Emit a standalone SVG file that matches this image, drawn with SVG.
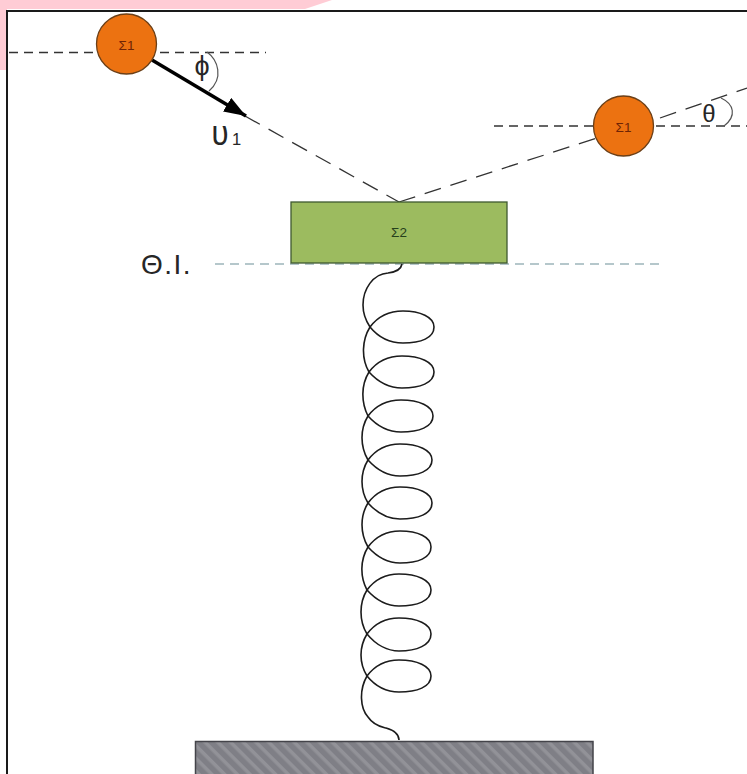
<svg xmlns="http://www.w3.org/2000/svg" width="747" height="774" viewBox="0 0 747 774">
<style>
.lbl{font-family:"Liberation Sans","DejaVu Sans",sans-serif;fill:#262626}
.sm{font-family:"Liberation Sans","DejaVu Sans",sans-serif;font-size:13.500px;text-anchor:middle}
.ball{fill:#ec7211;stroke:#6b3f17;stroke-width:1.300}
.dash{fill:none;stroke:#333;stroke-width:1.300;stroke-dasharray:9 6}
.dash2{fill:none;stroke:#333;stroke-width:1.300;stroke-dasharray:17 10}
.arc{fill:none;stroke:#555;stroke-width:1.200}
</style>
<defs>
<pattern id="hatch" width="9" height="9" patternUnits="userSpaceOnUse" patternTransform="rotate(45)">
<rect width="9" height="9" fill="#7f7f86"/><rect width="9" height="3.500" fill="#929298"/>
</pattern>
<marker id="ah" markerUnits="userSpaceOnUse" markerWidth="24" markerHeight="18" refX="22" refY="8" orient="auto"><path d="M0 0L22 8L0 16z" fill="#000"/></marker>
</defs>
<rect width="747" height="774" fill="#fff"/>
<path d="M0 0H332L305 9H7V70H0z" fill="#ffccd5"/>
<path d="M747 11H7V774" fill="none" stroke="#1a1a1a" stroke-width="2"/>
<g id="connectors">
<path class="dash" d="M9 52.500H97M160 52.500H266"/>
<path class="dash" d="M494 126H593M656 126H747"/>
<path class="dash2" d="M245 116L399 202"/>
<path class="dash2" d="M399 202L597 138M660 118L747 88"/>
<path d="M215 264H659" fill="none" stroke="#6d8f97" stroke-width="1.200" stroke-dasharray="9 6"/>
<path d="M152 60L246 116" fill="none" stroke="#000" stroke-width="3.500" marker-end="url(#ah)"/>
<path class="arc" d="M207 52C218 60 224 78 209 91"/>
<path class="arc" d="M721 98C734 104 737 116 724 126"/>
</g>
<g id="mass-top-left"><circle class="ball" cx="126.500" cy="44" r="30"/><text class="sm" x="126.500" y="49.500" fill="#6e2406">Σ1</text></g>
<g id="mass-top-right"><circle class="ball" cx="623.500" cy="126" r="30"/><text class="sm" x="623.500" y="131.500" fill="#6e2406">Σ1</text></g>
<g id="mass-block"><rect x="291" y="202" width="216" height="61" fill="#9cbb5f" stroke="#3f5a30" stroke-width="1.300"/><text class="sm" x="399" y="237" fill="#26401c">Σ2</text></g>
<g id="spring"><path fill="none" stroke="#1c1c1c" stroke-width="1.600" d="M402 264C401 270 396 272 388 273C373 274 363 289 363 305C363 314 366 321 370 327
C379 338 391 343 403 343C421 343 434 338 434 327C434 317 420 311 403 311C391 311 379 315 370 327C362 340 361 358 369 372
C378 382 390 388 402 388C420 388 434 383 434 372C434 362 420 356 402 356C390 356 378 360 369 372C361 385 361 402 368 416
C377 426 389 432 401 432C419 432 433 427 433 416C433 406 419 400 401 400C389 400 377 404 368 416C360 429 360 446 368 460
C377 470 389 476 400 476C418 476 432 471 432 460C432 450 418 444 400 444C388 444 377 448 368 460C360 473 360 490 368 503
C377 513 389 519 400 519C418 519 432 514 432 503C432 493 418 487 400 487C388 487 377 491 368 503C360 516 360 533 368 547
C377 557 389 563 400 563C418 563 431 558 431 547C431 537 418 531 400 531C388 531 377 535 368 547C360 560 360 577 367 590
C376 600 388 606 399 606C417 606 431 601 431 590C431 580 417 574 399 574C387 574 376 578 367 590C359 603 359 621 367 634
C376 645 388 651 399 651C417 651 431 645 431 634C431 624 417 618 399 618C387 618 376 622 367 634C359 647 359 663 367 676
C376 687 388 692 399 692C417 692 431 687 431 676C431 666 417 660 399 660C387 660 376 664 367 676C359 690 360 708 368 717C374 726 382 727 386 728C393 730 399 733 399 740"/></g>
<g id="ground"><rect x="195" y="741" width="398" height="33" fill="url(#hatch)"/><path d="M195.500 774V741.500H593V774" fill="none" stroke="#44444a" stroke-width="1.500"/></g>
<g id="labels">
<text class="lbl" x="202" y="75" font-size="27" text-anchor="middle">ϕ</text>
<text class="lbl" x="709" y="122" font-size="24" text-anchor="middle">θ</text>
<text class="lbl" transform="translate(211.500 145) scale(1.200 1.350)" font-size="26">υ</text>
<text class="lbl" x="232" y="145" font-size="16.500">1</text>
<text class="lbl" x="141" y="274" font-size="28" letter-spacing="1.500">Θ.Ι.</text>
</g>
</svg>
